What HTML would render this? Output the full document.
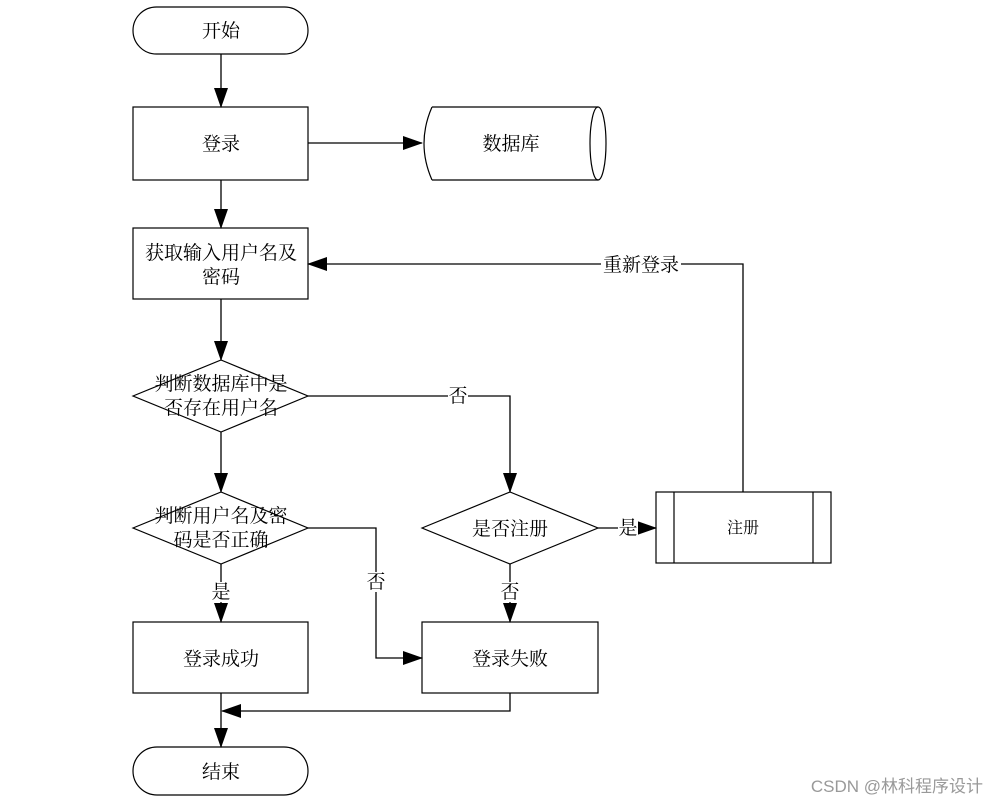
<!DOCTYPE html>
<html><head><meta charset="utf-8"><style>
html,body{margin:0;padding:0;background:#fff;}
svg text{font-family:"Liberation Serif","Noto Serif CJK SC","Noto Sans CJK SC",serif;font-size:19px;fill:#000;}
</style></head><body>
<svg width="987" height="803" viewBox="0 0 987 803" xmlns="http://www.w3.org/2000/svg">
<defs>
<marker id="a" markerWidth="20" markerHeight="14" refX="19" refY="7" orient="auto" markerUnits="userSpaceOnUse">
<path d="M0,0 L20,7 L0,14 Z" fill="#000"/></marker>
</defs>
<g fill="#fff" stroke="#000" stroke-width="1.2">
<rect x="133" y="7" width="175" height="47" rx="23.5"/>
<rect x="133" y="107" width="175" height="73"/>
<path d="M432,107 L598,107 M432,180 L598,180 M432,107 Q416,143.5 432,180"/>
<ellipse cx="598" cy="143.5" rx="8" ry="36.5" fill="none"/>
<rect x="133" y="228" width="175" height="71"/>
<polygon points="133,396 221,360 308,396 221,432"/>
<polygon points="133,528 221,492 308,528 221,564"/>
<polygon points="422,528 510,492 598,528 510,564"/>
<rect x="656" y="492" width="175" height="71"/>
<path d="M674,492 V563 M813,492 V563"/>
<rect x="133" y="622" width="175" height="71"/>
<rect x="422" y="622" width="176" height="71"/>
<rect x="133" y="747" width="175" height="48" rx="24"/>
</g>
<g fill="none" stroke="#000" stroke-width="1.3">
<path d="M221,54 V107" marker-end="url(#a)"/>
<path d="M308,143 H422" marker-end="url(#a)"/>
<path d="M221,180 V228" marker-end="url(#a)"/>
<path d="M221,299 V360" marker-end="url(#a)"/>
<path d="M221,432 V492" marker-end="url(#a)"/>
<path d="M308,396 H510 V492" marker-end="url(#a)"/>
<path d="M308,528 H376 V658 H422" marker-end="url(#a)"/>
<path d="M598,528 H656" marker-end="url(#a)"/>
<path d="M743,492 V264 H308" marker-end="url(#a)"/>
<path d="M510,564 V622" marker-end="url(#a)"/>
<path d="M221,564 V622" marker-end="url(#a)"/>
<path d="M221,693 V747" marker-end="url(#a)"/>
<path d="M510,693 V711 H222" marker-end="url(#a)"/>
</g>
<g text-anchor="middle">
<text x="221" y="37">开始</text>
<text x="221" y="150">登录</text>
<text x="511" y="150">数据库</text>
<text x="221" y="259">获取输入用户名及</text>
<text x="221" y="283">密码</text>
<text x="221" y="390">判断数据库中是</text>
<text x="221" y="414">否存在用户名</text>
<text x="221" y="522">判断用户名及密</text>
<text x="221" y="546">码是否正确</text>
<text x="510" y="535">是否注册</text>
<text x="743" y="533" style="font-size:16px">注册</text>
<text x="221" y="665">登录成功</text>
<text x="510" y="665">登录失败</text>
<text x="221" y="778">结束</text>
</g>
<g text-anchor="middle">
<rect x="448" y="386" width="20" height="20" fill="#fff"/>
<text x="458" y="402">否</text>
<rect x="366" y="572" width="20" height="20" fill="#fff"/>
<text x="376" y="588">否</text>
<rect x="500" y="582" width="20" height="20" fill="#fff"/>
<text x="510" y="598">否</text>
<rect x="211" y="582" width="20" height="20" fill="#fff"/>
<text x="221" y="598">是</text>
<rect x="618" y="518" width="20" height="20" fill="#fff"/>
<text x="628" y="534">是</text>
<rect x="601" y="254" width="80" height="20" fill="#fff"/>
<text x="641" y="271">重新登录</text>
</g>
<text x="983" y="792" text-anchor="end" style="font-family:'Liberation Sans','Noto Sans CJK SC',sans-serif;font-size:17px;fill:#999">CSDN @林科程序设计</text>
</svg>
</body></html>
